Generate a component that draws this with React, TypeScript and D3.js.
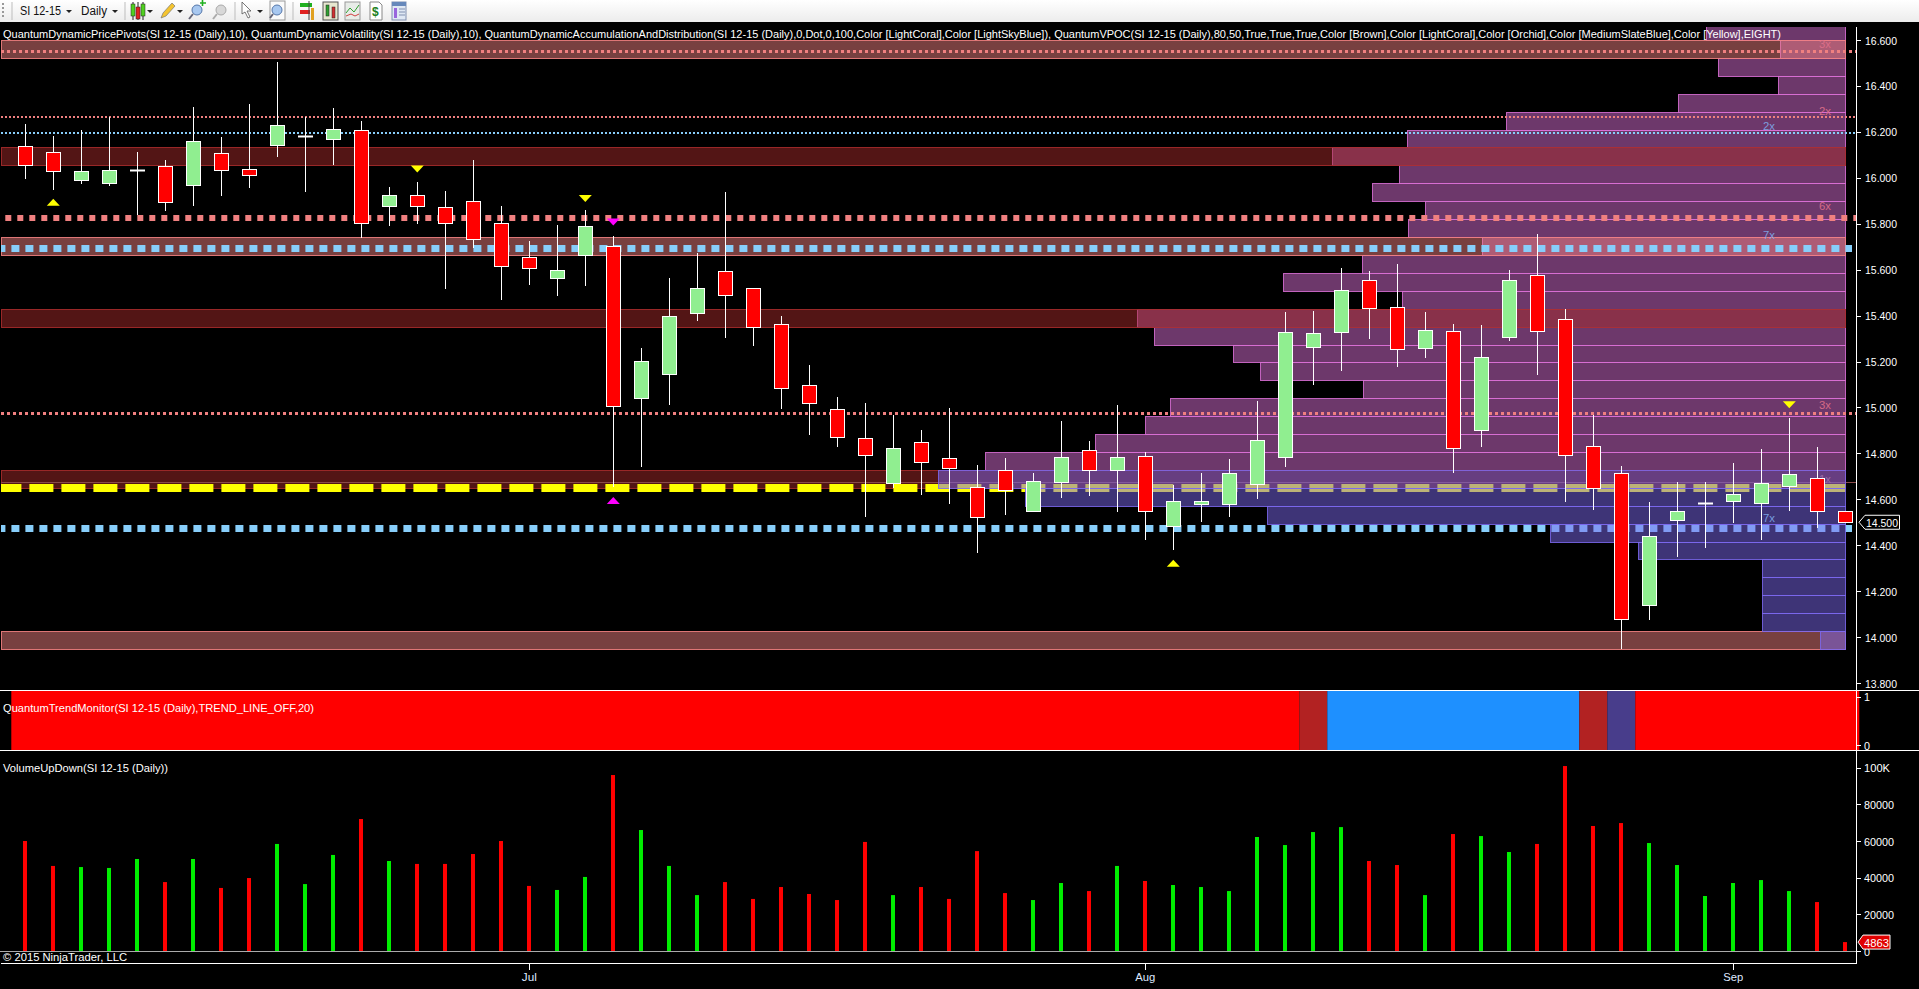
import React from "react";
import * as d3 from "d3";

// ---- data ----
const highs = [16.234,16.182,16.208,16.266,16.112,16.077,16.308,16.177,16.321,16.504,16.266,16.304,16.247,15.960,15.982,15.942,16.077,15.877,15.725,15.794,15.860,15.746,15.259,15.563,15.671,15.938,15.518,15.398,15.184,15.045,15.019,14.967,14.901,14.997,14.749,14.779,14.714,14.941,14.854,15.010,14.806,14.662,14.714,14.775,15.028,15.415,15.420,15.606,15.594,15.624,15.415,15.363,15.359,15.598,15.754,15.428,14.967,14.745,14.588,14.675,14.675,14.758,14.819,14.954,14.827,14.551];
const bodyTops = [16.137,16.111,16.028,16.032,16.032,16.050,16.159,16.106,16.037,16.228,16.180,16.211,16.207,15.926,15.923,15.874,15.900,15.804,15.653,15.597,15.791,15.704,15.202,15.396,15.518,15.592,15.518,15.362,15.096,14.991,14.865,14.822,14.848,14.778,14.652,14.726,14.678,14.782,14.813,14.782,14.787,14.591,14.591,14.713,14.856,15.327,15.322,15.510,15.553,15.436,15.335,15.334,15.218,15.553,15.575,15.383,14.830,14.713,14.438,14.551,14.583,14.621,14.669,14.708,14.691,14.551];
const bodyBottoms = [16.057,16.031,15.992,15.979,16.032,15.896,15.970,16.035,16.013,16.144,16.180,16.170,15.804,15.878,15.878,15.804,15.732,15.617,15.608,15.565,15.665,15.007,15.042,15.147,15.412,15.491,15.351,15.086,15.020,14.872,14.794,14.672,14.763,14.737,14.524,14.642,14.550,14.676,14.729,14.729,14.550,14.485,14.581,14.581,14.668,14.785,15.264,15.327,15.434,15.253,15.260,14.824,14.900,15.305,15.334,14.795,14.647,14.077,14.141,14.508,14.583,14.594,14.585,14.659,14.550,14.502];
const lows = [15.995,15.947,15.973,15.964,15.838,15.855,15.877,15.920,15.955,16.090,15.938,16.056,15.739,15.790,15.799,15.516,15.693,15.468,15.533,15.485,15.529,14.655,14.742,15.010,15.378,15.302,15.267,14.993,14.880,14.827,14.522,14.647,14.618,14.579,14.366,14.531,14.544,14.605,14.614,14.544,14.422,14.379,14.501,14.522,14.601,14.742,15.097,15.160,15.298,15.177,15.216,14.716,14.829,15.290,15.142,14.589,14.554,13.946,14.075,14.350,14.387,14.496,14.422,14.549,14.475,14.502];
const candleKind = ["r","r","g","g","w","r","g","r","r","g","w","g","r","g","r","r","r","r","r","g","g","r","g","g","g","r","r","r","r","r","r","g","r","r","r","r","g","g","r","g","r","g","g","g","g","g","g","g","r","r","g","r","g","g","r","r","r","r","g","g","w","g","g","g","r","r"];

const volumes = [60000,46400,45800,45300,50200,37600,50200,34400,39800,58400,36500,52400,72000,49100,47500,47500,52900,60000,35500,33300,40400,96000,66000,46400,30500,37600,28400,34900,31100,27800,59500,30500,34900,28400,54500,31600,27800,37100,32700,46400,38200,36000,34900,32700,62200,57800,64900,67600,49100,46900,30500,63800,62700,54000,58400,100900,68200,69800,58900,46900,30000,37100,38700,32700,26700,4863];
const volumeKind = ["r","r","g","g","g","r","g","r","r","g","g","g","r","g","r","r","r","r","r","g","g","r","g","g","g","r","r","r","r","r","r","g","r","r","r","r","g","g","r","g","r","g","g","g","g","g","g","g","r","r","g","r","g","g","r","r","r","r","g","g","g","g","g","g","r","r"];

const profileVolumes = [15.4,7.2,14.0,7.4,18.4,37.4,48.3,56.5,49.2,52.2,46.3,48.2,40.0,53.3,61.9,48.8,78.0,76.2,67.5,64.5,53.1,74.4,77.1,82.6,94.8,100,90.4,63.7,32.5,22.9,9.2,9.2,9.2,9.2,2.8];
const profileTopPrice = 16.678;
const profileStep = 0.078;
const firstSlateRow = 25;
const lightBandRows = [1, 12, 34];
const darkBandRows = [7, 16, 25];

const pivotTopBand = 16.553;
const pivotFineCoral = 16.263;
const pivotFineBlue = 16.193;
const pivotBoldCoral = 15.827;
const pivotBoldBlue = 15.696;
const pivotMidCoral = 14.974;
const vpocPrice = 14.647;
const vpocEdgePrice = 14.675;
const pivotLowBlue = 14.473;

const markerIdx = [1, 14, 20, 21, 21, 41, 63];
const markerPrice = [15.893, 16.038, 15.910, 15.807, 14.595, 14.321, 15.012];
const markerUp = [true, false, false, false, true, true, false];
const markerMagenta = [false, false, false, true, true, false, false];

const hvnLabels = ["3x", "2x", "2x", "6x", "7x", "3x", "1x", "7x"];
const hvnPrices = [16.582, 16.293, 16.224, 15.876, 15.752, 15.010, 14.690, 14.517];
const hvnKinds = ["c", "c", "b", "c", "b", "c", "g", "b"];

const priceTicks = [16.6,16.4,16.2,16.0,15.8,15.6,15.4,15.2,15.0,14.8,14.6,14.4,14.2,14.0,13.8];
const volumeTicks = [0,20000,40000,60000,80000,100000];
const trendRunLengths = [46,1,9,1,1,8];
const trendRunStates = ["down","pause","up","pause","turn","down"];
const monthLabels = ["Jul","Aug","Sep"];
const monthIdx = [18,40,61];
const lastPrice = 14.5;

const mainTitle = "QuantumDynamicPricePivots(SI 12-15 (Daily),10), QuantumDynamicVolatility(SI 12-15 (Daily),10), QuantumDynamicAccumulationAndDistribution(SI 12-15 (Daily),0,Dot,0,100,Color [LightCoral],Color [LightSkyBlue]), QuantumVPOC(SI 12-15 (Daily),80,50,True,True,True,Color [Brown],Color [LightCoral],Color [Orchid],Color [MediumSlateBlue],Color [Yellow],EIGHT)";
const trendTitle = "QuantumTrendMonitor(SI 12-15 (Daily),TREND_LINE_OFF,20)";
const volumeTitle = "VolumeUpDown(SI 12-15 (Daily))";
const copyright = "\u00A9 2015 NinjaTrader, LLC";

// ---- geometry ----
const W = 1919, H = 989;
const axisX = 1856;
const x = d3.scaleLinear().domain([0, 65]).range([25.3, 1845.3]);
const y = d3.scaleLinear().domain([13.8, 16.6]).range([683, 40]);
const yVol = d3.scaleLinear().domain([0, 100000]).range([951, 767.7]);
const yTrend = d3.scaleLinear().domain([0, 1]).range([745, 696.7]);
const profW = d3.scaleLinear().domain([0, 100]).range([0, 908]);
const profRight = 1845.5;
const CORAL = "#F08080", SKY = "#87CEFA", ORCHID = "#DA70D6", SLATE = "#7B68EE", BROWN = "#A52A2A";
const FONT = "'Liberation Sans', Arial, sans-serif";
const trendFill: Record<string, string> = { down: "#FF0000", pause: "#B22222", up: "#1E90FF", turn: "#483D8B" };

const crisp = (v: number) => Math.round(v) + 0.5;
const rowY = (i: number) => crisp(y(profileTopPrice - profileStep * i));
const rowH = (i: number) => rowY(i + 1) - rowY(i);

function T({ x: tx, y: ty, len, size = 11.5, fill = "#fff", anchor, children, op }: any) {
  return (
    <text x={tx} y={ty} fontFamily={FONT} fontSize={size} fill={fill} textAnchor={anchor} opacity={op}
      textLength={len} lengthAdjust={len ? "spacingAndGlyphs" : undefined}>{children}</text>
  );
}

function Dotted({ price, color, w, dash, offset = 0, x1 = 1, x2 = axisX }: any) {
  const py = w % 2 === 1 ? crisp(y(price)) : Math.round(y(price));
  return <line x1={x1} x2={x2} y1={py} y2={py} stroke={color} strokeWidth={w} strokeDasharray={dash} strokeDashoffset={offset} />;
}

function Toolbar() {
  const caret = (cx: number) => <path d={`M${cx - 3},10 h6 l-3,3 z`} fill="#222" />;
  const sep = (sx: number) => <line x1={sx} x2={sx} y1={2} y2={20} stroke="#bdbdbd" />;
  return (
    <g>
      <defs>
        <linearGradient id="tb" x1="0" x2="0" y1="0" y2="1">
          <stop offset="0" stopColor="#ffffff" />
          <stop offset="1" stopColor="#ececec" />
        </linearGradient>
      </defs>
      <rect x={0} y={0} width={W} height={22} fill="url(#tb)" />
      <line x1={3} x2={3} y1={3} y2={19} stroke="#999" strokeWidth={2} strokeDasharray="2 2" />
      {sep(12)}{sep(125)}{sep(235)}{sep(293)}
      <T x={20} y={15} len={41} size={12} fill="#111">SI 12-15</T>{caret(69)}
      <T x={81} y={15} len={26} size={12} fill="#111">Daily</T>{caret(115)}
      {[133, 138, 143].map((b, i) => (
        <g key={b}>
          <line x1={b} x2={b} y1={2} y2={20} stroke="#222" />
          <rect x={b - 2} y={4 + (i % 2) * 3} width={4} height={12} fill={i === 1 ? "#e02020" : "#50d020"} stroke="#222" strokeWidth={0.5} />
        </g>
      ))}
      {caret(150)}
      <path d="M161,18 l2,-5 l9,-10 l3,3 l-9,10 z" fill="#f4c430" stroke="#777" strokeWidth={0.7} />{caret(180)}
      <circle cx={197} cy={10} r={5} fill="#a8c8f0" stroke="#5577aa" />
      <line x1={193} x2={189} y1={14} y2={19} stroke="#667" strokeWidth={2} />
      <path d="M202.5,0 v6 M200,3 h6" stroke="#20b020" strokeWidth={1.6} />
      <circle cx={221} cy={10} r={5} fill="#d8d8d8" stroke="#aaa" />
      <line x1={217} x2={213} y1={14} y2={19} stroke="#aaa" strokeWidth={2} />
      <path d="M242,2 l0,12 l3,-2 l3,6 l2,-1 l-3,-6 l4,0 z" fill="#fff" stroke="#555" strokeWidth={0.8} />{caret(260)}
      <rect x={270} y={1} width={15} height={19} fill="#fafafa" stroke="#999" />
      <circle cx={277} cy={10} r={5} fill="#a8c8f0" stroke="#5577aa" />
      <line x1={273} x2={270} y1={14} y2={18} stroke="#667" strokeWidth={2} />
      <rect x={300} y={3} width={12} height={4} fill="#20b020" />
      <rect x={300} y={10} width={10} height={4} fill="#e02020" />
      <line x1={309} x2={309} y1={1} y2={20} stroke="#444" />
      <rect x={311} y={8} width={3} height={12} fill="#e0a020" />
      <rect x={323} y={2} width={15} height={18} fill="#e8e8d0" stroke="#555" />
      <rect x={326} y={5} width={3} height={11} fill="#30a030" stroke="#222" strokeWidth={0.5} />
      <rect x={332} y={7} width={3} height={11} fill="#d03030" stroke="#222" strokeWidth={0.5} />
      <rect x={345} y={2} width={15} height={18} fill="#e8ece8" stroke="#999" />
      <path d="M346,13 l4,-5 l4,4 l5,-7" fill="none" stroke="#30a030" />
      <path d="M346,16 l5,-2 l4,2 l4,-2" fill="none" stroke="#d04040" />
      <path d="M370,2 h9 l3,3 v15 h-12 z" fill="#fff" stroke="#888" />
      <text x={372} y={16} fontFamily={FONT} fontSize={12} fontWeight={700} fill="#208020">$</text>
      <rect x={392} y={2} width={14} height={18} fill="#dfe8f4" stroke="#8090b0" />
      <rect x={392} y={2} width={14} height={4} fill="#6688bb" />
      <rect x={394} y={8} width={3} height={10} fill="#9966dd" />
      <path d="M399,9 h6 M399,12 h6 M399,15 h6" stroke="#8090b0" />
    </g>
  );
}

export default function App() {
  React.useEffect(() => { document.body.style.margin = "0"; document.body.style.background = "#000"; }, []);
  const orchidRows = profileVolumes.map((v, i) => ({ v, i })).filter((r) => r.i < firstSlateRow);
  const slateRows = profileVolumes.map((v, i) => ({ v, i })).filter((r) => r.i >= firstSlateRow);
  let cursor = 0;
  const trendRuns = trendRunLengths.map((n, i) => {
    const start = cursor; cursor += n;
    return { start, n, state: trendRunStates[i] };
  });
  const step = x(1) - x(0);
  const rowLeft = (v: number) => crisp(profRight - profW(v));
  return (
    <svg width={W} height={H} style={{ position: "fixed", left: 0, top: 0, display: "block", background: "#000" }}>
      <defs>
        <clipPath id="pricePanel"><rect x={0} y={27} width={axisX} height={662} /></clipPath>
      </defs>
      <Toolbar />

      <g clipPath="url(#pricePanel)">
        {orchidRows.map((r) => (
          <rect key={r.i} x={rowLeft(r.v)} y={rowY(r.i)} width={profRight - rowLeft(r.v)} height={rowH(r.i)}
            fill={ORCHID} fillOpacity={0.5} stroke={ORCHID} strokeOpacity={0.85} />
        ))}
        {lightBandRows.map((i) => (
          <rect key={i} x={1.5} y={rowY(i)} width={profRight - 1.5} height={rowH(i)} fill={CORAL} fillOpacity={0.5} stroke={CORAL} strokeOpacity={0.9} />
        ))}
        {darkBandRows.map((i) => (
          <rect key={i} x={1.5} y={rowY(i)} width={profRight - 1.5} height={rowH(i)} fill={BROWN} fillOpacity={0.5} stroke={BROWN} strokeOpacity={0.9} />
        ))}
        <Dotted price={pivotTopBand} color={CORAL} w={3} dash="3 3" />
        <Dotted price={pivotFineCoral} color={CORAL} w={2} dash="2 2" />
        <Dotted price={pivotFineBlue} color={SKY} w={2} dash="2 2" />
        <Dotted price={pivotBoldCoral} color={CORAL} w={6} dash="6 6" x1={5.3} />
        <Dotted price={pivotBoldBlue} color={SKY} w={7} dash="8 6" offset={3.6} x2={1852} />
        <Dotted price={pivotMidCoral} color={CORAL} w={3} dash="3 3" />
        <Dotted price={vpocEdgePrice} color="#8a4a4a" w={1} />
        <Dotted price={vpocPrice} color="#FFFF00" w={8} dash="24 8" offset={3.6} x2={profRight} />
        <Dotted price={pivotLowBlue} color={SKY} w={7} dash="8 6" offset={3.6} x2={1852} />
        {slateRows.map((r) => (
          <rect key={r.i} x={rowLeft(r.v)} y={rowY(r.i)} width={profRight - rowLeft(r.v)} height={rowH(r.i)}
            fill={SLATE} fillOpacity={0.5} stroke={SLATE} strokeOpacity={0.85} />
        ))}
        {hvnLabels.map((t, i) => (
          <T key={i} x={hvnKinds[i] === "b" ? 1763 : 1819} y={y(hvnPrices[i]) + 4} len={12} size={11}
            fill={hvnKinds[i] === "b" ? "#7fa8e8" : hvnKinds[i] === "g" ? "#a070a8" : "#e0708a"} op={0.9}>{t}</T>
        ))}
        {highs.map((h, i) => {
          const kind = candleKind[i];
          const wx = Math.round(x(i)) + 0.5;
          const top = crisp(y(bodyTops[i]));
          const bot = crisp(y(bodyBottoms[i]));
          return (
            <g key={i}>
              <line x1={wx} x2={wx} y1={Math.round(y(h))} y2={Math.round(y(lows[i]))} stroke="#fff" strokeWidth={1} />
              {kind === "w" ? (
                <line x1={wx - 7.5} x2={wx + 7.5} y1={top} y2={top} stroke="#fff" strokeWidth={2} />
              ) : (
                <rect x={wx - 7} y={top} width={14} height={Math.max(bot - top, 1)}
                  fill={kind === "r" ? "#FF0000" : "#90EE90"} stroke="#fff" strokeWidth={1} />
              )}
            </g>
          );
        })}
        {markerIdx.map((m, i) => {
          const cx = x(m), cy = y(markerPrice[i]);
          const d = markerUp[i]
            ? `M${cx - 6.5},${cy + 3.5} L${cx + 6.5},${cy + 3.5} L${cx},${cy - 3.5} Z`
            : `M${cx - 6.5},${cy - 3.5} L${cx + 6.5},${cy - 3.5} L${cx},${cy + 3.5} Z`;
          return <path key={i} d={d} fill={markerMagenta[i] ? "#FF00FF" : "#FFFF00"} />;
        })}
      </g>

      <T x={3} y={38} len={1778}>{mainTitle}</T>

      {/* trend panel */}
      {trendRuns.map((r, i) => (
        <rect key={i} x={x(r.start) - step / 2} y={690.5} width={step * r.n} height={59.5} fill={trendFill[r.state]} />
      ))}
      <line x1={0} x2={W} y1={690.5} y2={690.5} stroke="#fff" />
      <line x1={0} x2={W} y1={750.5} y2={750.5} stroke="#fff" />
      <T x={3} y={712} len={311}>{trendTitle}</T>

      {/* volume panel */}
      <T x={3} y={772} len={165}>{volumeTitle}</T>
      {volumes.map((v, i) => (
        <rect key={i} x={Math.round(x(i)) - 2} y={yVol(v)} width={4} height={yVol(0) - yVol(v)}
          fill={volumeKind[i] === "r" ? "#FF0000" : "#00EE00"} />
      ))}
      <line x1={0} x2={axisX} y1={951.5} y2={951.5} stroke="#aaa" />
      <T x={3} y={961} len={124}>{copyright}</T>
      <line x1={1} x2={axisX + 1} y1={963.5} y2={963.5} stroke="#fff" />

      {/* axes */}
      <line x1={axisX + 0.5} x2={axisX + 0.5} y1={27} y2={964} stroke="#fff" />
      {priceTicks.map((p) => (
        <g key={p}>
          <line x1={axisX} x2={axisX + 5} y1={crisp(y(p))} y2={crisp(y(p))} stroke="#fff" />
          <T x={1865} y={y(p) + 4.5} len={32}>{d3.format(".3f")(p)}</T>
        </g>
      ))}
      {[0, 1].map((t) => (
        <g key={t}>
          <line x1={axisX} x2={axisX + 5} y1={crisp(yTrend(t))} y2={crisp(yTrend(t))} stroke="#fff" />
          <T x={1864} y={yTrend(t) + 4.5} len={6}>{String(t)}</T>
        </g>
      ))}
      {volumeTicks.map((t) => (
        <g key={t}>
          <line x1={axisX} x2={axisX + 5} y1={crisp(yVol(t))} y2={crisp(yVol(t))} stroke="#fff" />
          <T x={1864} y={yVol(t) + 4.5} len={t === 0 ? 6 : t === 100000 ? 26 : 30}>{t === 100000 ? "100K" : String(t)}</T>
        </g>
      ))}
      {monthLabels.map((m, i) => (
        <g key={m}>
          <line x1={crisp(x(monthIdx[i]))} x2={crisp(x(monthIdx[i]))} y1={963} y2={970} stroke="#fff" />
          <T x={x(monthIdx[i])} y={981} anchor="middle" fill="#dfe8ff" len={m === "Jul" ? 15 : 20}>{m}</T>
        </g>
      ))}

      {/* last price + last volume tags */}
      <path d={`M${axisX + 3},${y(lastPrice)} L${axisX + 9},${y(lastPrice) - 7} H1899.5 V${y(lastPrice) + 7} H${axisX + 9} Z`} fill="#000" stroke="#fff" />
      <T x={1866} y={y(lastPrice) + 4.5} len={32}>{d3.format(".3f")(lastPrice)}</T>
      <path d={`M${axisX + 2},${yVol(volumes[65])} L${axisX + 7},${yVol(volumes[65]) - 7} H1890 V${yVol(volumes[65]) + 7} H${axisX + 7} Z`} fill="#E00000" stroke="#fff" />
      <T x={1864} y={yVol(volumes[65]) + 4.5} len={25}>{String(volumes[65])}</T>
    </svg>
  );
}
